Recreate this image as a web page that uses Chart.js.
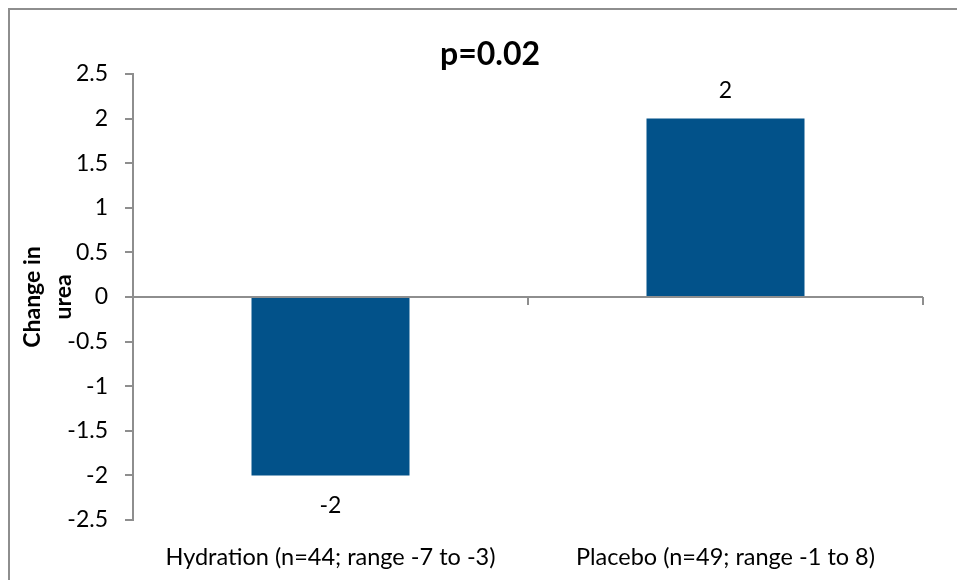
<!DOCTYPE html>
<html>
<head>
<meta charset="utf-8">
<script src="https://cdn.jsdelivr.net/npm/chart.js@4"></script>
<style>
  html, body { margin: 0; padding: 0; background: #ffffff; }
  #wrap { position: relative; width: 957px; height: 580px; overflow: hidden; }
  #frame { position: absolute; left: 8px; top: 8px; width: 1000px; height: 1000px;
           border-left: 2px solid #8e8e8e; border-top: 2px solid #8e8e8e; box-sizing: border-box; }
  #c { position: absolute; left: 0; top: 0; }
</style>
</head>
<body>
<div id="wrap">
  <div id="frame"></div>
  <canvas id="c" width="957" height="580"></canvas>
</div>
<script>
const categories = ['Hydration (n=44; range -7 to -3)', 'Placebo (n=49; range -1 to 8)'];
const changeInUrea = [-2, 2];
const yTitleLines = ['Change in', 'urea'];
const chartTitle = 'p=0.02';

const FONT = 'Lato, "Open Sans", "DejaVu Sans", sans-serif';
const AXIS_GRAY = '#8e8e8e';

const overlayPlugin = {
  id: 'overlay',
  afterDatasetsDraw(chart) {
    const ctx = chart.ctx;
    const xs = chart.scales.x, ys = chart.scales.y;
    const area = chart.chartArea;
    const y0 = ys.getPixelForValue(0);
    const half = (xs.getPixelForValue(1) - xs.getPixelForValue(0)) / 2;
    ctx.save();
    ctx.strokeStyle = AXIS_GRAY;
    ctx.lineWidth = 2;
    ctx.beginPath();
    ctx.moveTo(area.left, y0);
    ctx.lineTo(area.right, y0);
    for (let i = 0; i <= categories.length; i++) {
      const bx = xs.getPixelForValue(0) - half + i * 2 * half;
      ctx.moveTo(bx, y0);
      ctx.lineTo(bx, y0 + 8);
    }
    ctx.stroke();
    // data labels
    ctx.fillStyle = '#000';
    ctx.font = '23px ' + FONT;
    ctx.textAlign = 'center';
    ctx.textBaseline = 'middle';
    const meta = chart.getDatasetMeta(0);
    meta.data.forEach((bar, i) => {
      const v = changeInUrea[i];
      const yy = v >= 0 ? bar.y - 28 : bar.y + 30;
      ctx.fillText(String(v), bar.x, yy);
    });
    // title
    ctx.font = 'bold 32px ' + FONT;
    ctx.fillText(chartTitle, 490, 55);
    ctx.restore();
  }
};

new Chart(document.getElementById('c'), {
  type: 'bar',
  data: {
    labels: categories,
    datasets: [{
      data: changeInUrea,
      backgroundColor: '#02528a',
      borderWidth: 0,
      barPercentage: 0.4,
      categoryPercentage: 1.0
    }]
  },
  options: {
    responsive: false,
    animation: false,
    events: [],
    layout: { padding: { left: 0, right: 34, top: 74, bottom: 0 } },
    plugins: { legend: { display: false }, tooltip: { enabled: false }, title: { display: false } },
    scales: {
      x: {
        grid: { display: false, drawTicks: false },
        border: { display: false },
        ticks: { color: '#000', font: { family: FONT, size: 23.5 }, padding: 23, maxRotation: 0, autoSkip: false },
        afterFit(s) { s.height = 60; }
      },
      y: {
        min: -2.5, max: 2.5,
        ticks: {
          stepSize: 0.5, color: '#000', font: { family: FONT, size: 23 }, padding: 17,
          callback: v => String(Math.round(v * 10) / 10)
        },
        grid: { drawOnChartArea: false, tickLength: 8, color: AXIS_GRAY, lineWidth: 2 },
        border: { display: true, color: AXIS_GRAY, width: 2 },
        title: {
          display: true, text: yTitleLines, color: '#000',
          font: { family: FONT, size: 23, weight: 'bold', lineHeight: 1.35 },
          padding: { top: 17, bottom: 0 }
        },
        afterFit(s) { s.width = 133; }
      }
    }
  },
  plugins: [overlayPlugin]
});
</script>
</body>
</html>
